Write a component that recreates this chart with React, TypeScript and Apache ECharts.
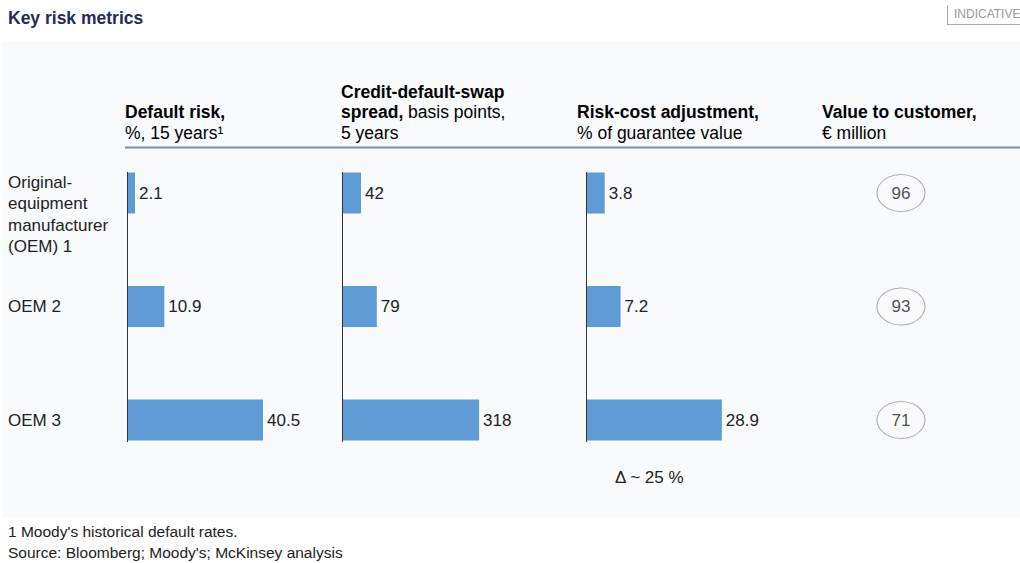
import React, { useEffect, useRef } from "react";
import * as echarts from "echarts";

const categories = ["Original-\nequipment\nmanufacturer\n(OEM) 1", "OEM 2", "OEM 3"];
const defaultRisk = [2.1, 10.9, 40.5];
const cdsSpread = [42, 79, 318];
const riskCost = [3.8, 7.2, 28.9];
const customerValue = [96, 93, 71];

const titleText = "Key risk metrics";
const tagText = "INDICATIVE";
const deltaText = "Δ ~ 25 %";
const footnotes = ["1 Moody's historical default rates.", "Source: Bloomberg; Moody's; McKinsey analysis"];
const headers = [
  "{b|Default risk,}\n{r|%, 15 years¹}",
  "{b|Credit-default-swap}\n{b|spread,}{r| basis points,}\n{r|5 years}",
  "{b|Risk-cost adjustment,}\n{r|% of guarantee value}",
  "{b|Value to customer,}\n{r|€ million}",
];

const FONT = "'Liberation Sans', Arial, Helvetica, sans-serif";
const NAVY = "#1f2d5c";
const TEXT = "#222222";
const BAR = "#5f9bd5";

export default function App() {
  const ref = useRef<HTMLDivElement>(null);
  useEffect(() => {
    if (!ref.current) return;
    const chart = echarts.init(ref.current, undefined, { renderer: "svg" });
    const gridTop = 136.25;
    const gridH = 340.5;
    const lefts = [128, 343, 587];
    const widths = [200, 214, 210];
    const maxes = [60, 500, 45];
    const seriesData = [defaultRisk, cdsSpread, riskCost];

    const rich = {
      b: { fontFamily: FONT, fontSize: 17.5, fontWeight: "bold", color: NAVY, lineHeight: 20.5 },
      r: { fontFamily: FONT, fontSize: 17.5, color: TEXT, lineHeight: 20.5 },
    };
    const headerX = [125, 341, 577, 822];
    const headerLines = [2, 3, 2, 2];

    const baseGraphic: any[] = [
      { type: "rect", z: -10, shape: { x: 2, y: 41, width: 1018, height: 476 }, style: { fill: "#f9fafc" } },
      {
        type: "text",
        x: 8,
        y: 18,
        style: { text: titleText, font: `bold 17.5px ${FONT}`, fill: NAVY, textVerticalAlign: "middle" },
      },
      {
        type: "text",
        x: 954,
        y: 14,
        style: { text: tagText, font: `12px ${FONT}`, fill: "#9a9a9a", textVerticalAlign: "middle" },
      },
      { type: "line", shape: { x1: 947.5, y1: 5, x2: 947.5, y2: 24 }, style: { stroke: "#aaaaaa", lineWidth: 1 } },
      { type: "line", shape: { x1: 947, y1: 24.5, x2: 1020, y2: 24.5 }, style: { stroke: "#aaaaaa", lineWidth: 1 } },
      ...headers.map((h, i) => ({
        type: "text",
        x: headerX[i],
        y: 143 - headerLines[i] * 20.5,
        style: { text: h, rich, font: `17.5px ${FONT}` },
      })),
      { type: "line", shape: { x1: 125, y1: 147.5, x2: 1020, y2: 147.5 }, style: { stroke: "#7e89a9", lineWidth: 2 } },
      ...lefts.map((l) => ({
        type: "line",
        z: 10,
        shape: { x1: l - 0.5, y1: 172, x2: l - 0.5, y2: 442 },
        style: { stroke: "#333333", lineWidth: 1 },
      })),
      {
        type: "text",
        x: 615,
        y: 477,
        style: { text: deltaText, font: `17px ${FONT}`, fill: TEXT, textVerticalAlign: "middle" },
      },
      ...footnotes.map((f, i) => ({
        type: "text",
        x: 8,
        y: 531 + i * 21,
        style: { text: f, font: `15.5px ${FONT}`, fill: TEXT, textVerticalAlign: "middle" },
      })),
    ];

    const option: any = {
      animation: false,
      backgroundColor: "#ffffff",
      textStyle: { fontFamily: FONT },
      grid: [
        ...lefts.map((l, i) => ({
          left: l,
          top: gridTop,
          width: widths[i],
          height: gridH,
          containLabel: false,
          outerBoundsMode: "none",
        })),
        { left: 877, top: gridTop, width: 48, height: gridH, containLabel: false, outerBoundsMode: "none" },
      ],
      xAxis: [
        ...maxes.map((m, i) => ({ gridIndex: i, type: "value", min: 0, max: m, show: false })),
        { gridIndex: 3, type: "value", min: -1, max: 1, show: false },
      ],
      yAxis: [0, 1, 2, 3].map((i) => ({
        gridIndex: i,
        type: "category",
        inverse: true,
        data: categories,
        axisLine: { show: false },
        axisTick: { show: false },
        splitLine: { show: false },
        axisLabel: { show: false },
      })),
      series: [
        ...seriesData.map((d, i) => ({
          type: "bar",
          xAxisIndex: i,
          yAxisIndex: i,
          data: d,
          barWidth: 41,
          itemStyle: { color: BAR },
          label: {
            show: true,
            position: "right",
            distance: 4,
            fontSize: 17,
            color: TEXT,
            fontFamily: FONT,
          },
        })),
        {
          type: "scatter",
          xAxisIndex: 3,
          yAxisIndex: 3,
          data: customerValue.map((v, k) => [0, k]),
          symbol: "circle",
          symbolSize: [48, 37],
          itemStyle: { color: "#fafafc", borderColor: "#9a9a9a", borderWidth: 1 },
          label: {
            show: true,
            position: "inside",
            formatter: (p: any) => String(customerValue[p.dataIndex]),
            fontSize: 17,
            color: TEXT,
            fontFamily: FONT,
          },
        },
      ],
      graphic: baseGraphic,
    };
    chart.setOption(option);

    // category labels placed on the category axis positions
    const catGraphic = categories.map((c, k) => {
      const y = chart.convertToPixel({ yAxisIndex: 0 }, k) as number;
      const multi = c.indexOf("\n") >= 0;
      return {
        type: "text",
        x: 8,
        y: multi ? y - 21.5 : y,
        style: {
          text: c,
          font: `17px ${FONT}`,
          lineHeight: 21.5,
          fill: TEXT,
          textVerticalAlign: multi ? "top" : "middle",
        },
      };
    });
    chart.setOption({ graphic: [...baseGraphic, ...catGraphic] });
    return () => chart.dispose();
  }, []);
  return (
    <div
      ref={ref}
      style={{ position: "absolute", left: 0, top: 0, width: 1020, height: 563 }}
    />
  );
}
